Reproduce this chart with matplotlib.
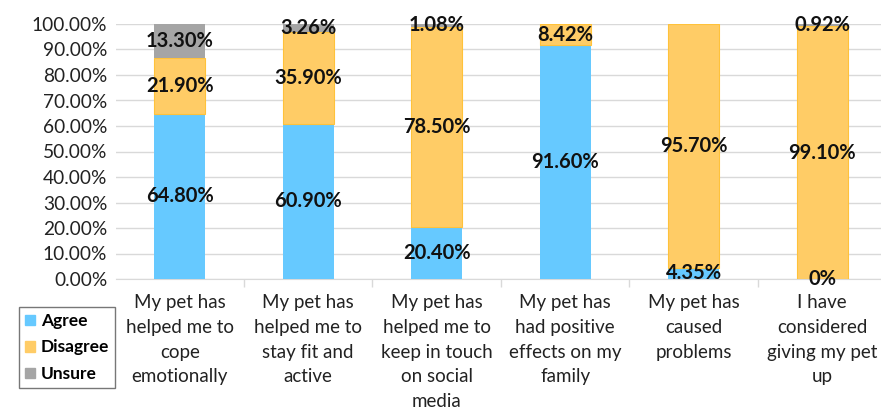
import numpy as np
import matplotlib.pyplot as plt
from matplotlib.patches import Patch

# Ответы владельцев питомцев (доли в %)
categories = ['My pet has\nhelped me to\ncope\nemotionally',
              'My pet has\nhelped me to\nstay fit and\nactive',
              'My pet has\nhelped me to\nkeep in touch\non social\nmedia',
              'My pet has\nhad positive\neffects on my\nfamily',
              'My pet has\ncaused\nproblems',
              'I have\nconsidered\ngiving my pet\nup']
agree = [64.80, 60.90, 20.40, 91.60, 4.35, 0.0]
disagree = [21.90, 35.90, 78.50, 8.42, 95.70, 99.10]
unsure = [13.30, 3.26, 1.08, np.nan, np.nan, 0.92]

colors = {'Agree': '#66C9FF', 'Disagree': '#FFCC66', 'Unsure': '#A5A5A5'}
edges = {'Agree': 'none', 'Disagree': '#FFC23A', 'Unsure': 'none'}

plt.rcParams['font.family'] = ['Lato', 'DejaVu Sans']

fig = plt.figure(figsize=(8.81, 4.09), dpi=100)
ax = fig.add_axes([115.5 / 881, 1 - 279 / 409, 771 / 881, 255 / 409])

x = np.arange(len(categories))
w = 0.40
bottom = np.zeros(len(categories))
for name, vals in [('Agree', agree), ('Disagree', disagree), ('Unsure', unsure)]:
    v = np.nan_to_num(np.array(vals, dtype=float))
    keep = v > 0
    ax.bar(x[keep], v[keep], w, bottom=bottom[keep], color=colors[name],
           edgecolor=edges[name], linewidth=0.8, zorder=3)
    for i, val in enumerate(vals):
        if np.isnan(val):
            continue
        txt = '0%' if val == 0 else f'{val:.2f}%'
        ax.text(x[i], bottom[i] + v[i] / 2, txt, ha='center', va='center',
                fontsize=14.5, fontweight='bold', color='#111111', zorder=4)
    bottom += v

ax.set_xlim(-0.5, len(categories) - 0.5)
ax.set_ylim(0, 100)
ax.set_yticks(np.arange(0, 101, 10))
ax.set_yticklabels([f'{t:.2f}%' for t in np.arange(0, 101, 10)], fontsize=13.8,
                   color='#222222')
ax.yaxis.grid(True, color='#D9D9D9', linewidth=1, zorder=0)
ax.tick_params(axis='y', length=0, pad=6)

# подписи категорий под осью
ax.set_xticks(x)
ax.set_xticklabels(categories, fontsize=13.5, color='#222222', linespacing=1.55)
ax.tick_params(axis='x', length=0, pad=11)
ax.set_xticks(np.arange(0.5, len(categories) - 0.5), minor=True)
ax.tick_params(axis='x', which='minor', length=6, color='#D9D9D9', width=1)

for s in ['left', 'right', 'top']:
    ax.spines[s].set_visible(False)
ax.spines['bottom'].set_color('#D9D9D9')

handles = [Patch(facecolor=colors[k], edgecolor=colors[k]) for k in colors]
leg = fig.legend(handles, list(colors.keys()), loc='upper left',
                 bbox_to_anchor=(19 / 881, 1 - 307 / 409), frameon=True,
                 fancybox=False, edgecolor='#555555', handlelength=0.55,
                 handleheight=0.55, handletextpad=0.35, borderpad=0.35,
                 labelspacing=0.6, borderaxespad=0,
                 prop={'weight': 'bold', 'size': 12.5})
leg.get_frame().set_linewidth(1.0)

fig.savefig('out.png', dpi=100)
